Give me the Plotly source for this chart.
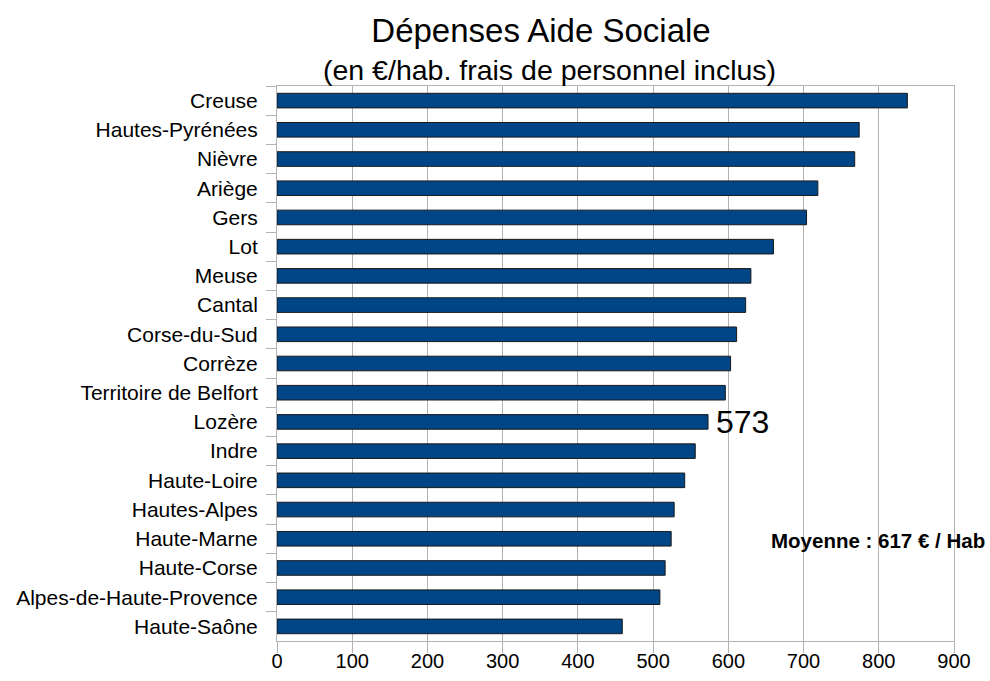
import plotly.graph_objects as go

departements = [
    "Creuse", "Hautes-Pyrénées", "Nièvre", "Ariège", "Gers", "Lot", "Meuse",
    "Cantal", "Corse-du-Sud", "Corrèze", "Territoire de Belfort", "Lozère",
    "Indre", "Haute-Loire", "Hautes-Alpes", "Haute-Marne", "Haute-Corse",
    "Alpes-de-Haute-Provence", "Haute-Saône",
]
depenses = [838, 774, 768, 719, 704, 660, 630, 623, 611, 603, 596, 573,
            556, 542, 528, 524, 516, 509, 459]

highlight_dept = "Lozère"
highlight_value = depenses[departements.index(highlight_dept)]
moyenne = 617
x_ticks = [0, 100, 200, 300, 400, 500, 600, 700, 800, 900]

FONT = "Liberation Sans"
GRID = "#b3b3b3"

fig = go.Figure()
fig.add_trace(go.Bar(
    x=depenses,
    y=departements,
    orientation="h",
    marker=dict(color="#004586", line=dict(color="#1a1a1a", width=1)),
    hoverinfo="x+y",
))

fig.add_annotation(
    x=highlight_value, y=highlight_dept, xref="x", yref="y",
    text=str(highlight_value), showarrow=False,
    xanchor="left", yanchor="middle", xshift=6,
    font=dict(family=FONT, size=32, color="#000000"),
)
fig.add_annotation(
    x=1.0487, y="Haute-Marne", xref="paper", yref="y",
    text=f"<b>Moyenne : {moyenne} € / Hab</b>", showarrow=False,
    xanchor="right", yanchor="middle", yshift=-2,
    font=dict(family=FONT, size=20.5, color="#000000"),
)
fig.add_annotation(
    x=0.403, y=1.0288, xref="paper", yref="paper",
    text="(en €/hab. frais de personnel inclus)", showarrow=False,
    xanchor="center", yanchor="middle",
    font=dict(family=FONT, size=28.5, color="#000000"),
)

fig.update_layout(
    template="none",
    width=990, height=681,
    margin=dict(l=277, r=36, t=86, b=40, pad=0),
    paper_bgcolor="white", plot_bgcolor="white",
    bargap=0.5,
    showlegend=False,
    title=dict(
        text="Dépenses Aide Sociale",
        x=0.5465, xref="container", xanchor="center",
        y=1 - 30 / 681, yref="container", yanchor="middle",
        font=dict(family=FONT, size=33, color="#000000"),
    ),
    font=dict(family=FONT, color="#000000"),
)
fig.update_xaxes(
    automargin=False,
    range=[0, 900], tickvals=x_ticks, ticktext=[str(v) for v in x_ticks],
    showgrid=True, gridcolor=GRID, gridwidth=1,
    showline=True, linecolor=GRID, linewidth=1, mirror=True,
    ticks="outside", ticklen=11, tickcolor=GRID, tickwidth=1,
    zeroline=False, ticklabelstandoff=-9,
    tickfont=dict(family=FONT, size=20, color="#000000"),
)
fig.update_yaxes(
    automargin=False,
    autorange="reversed", type="category",
    showgrid=False, zeroline=False,
    showline=True, linecolor=GRID, linewidth=1, mirror=True,
    ticks="outside", ticklen=10, tickcolor=GRID, tickwidth=1,
    tickson="boundaries", ticklabelstandoff=14,
    tickfont=dict(family=FONT, size=21, color="#000000"),
)

fig.write_html("out.html")
